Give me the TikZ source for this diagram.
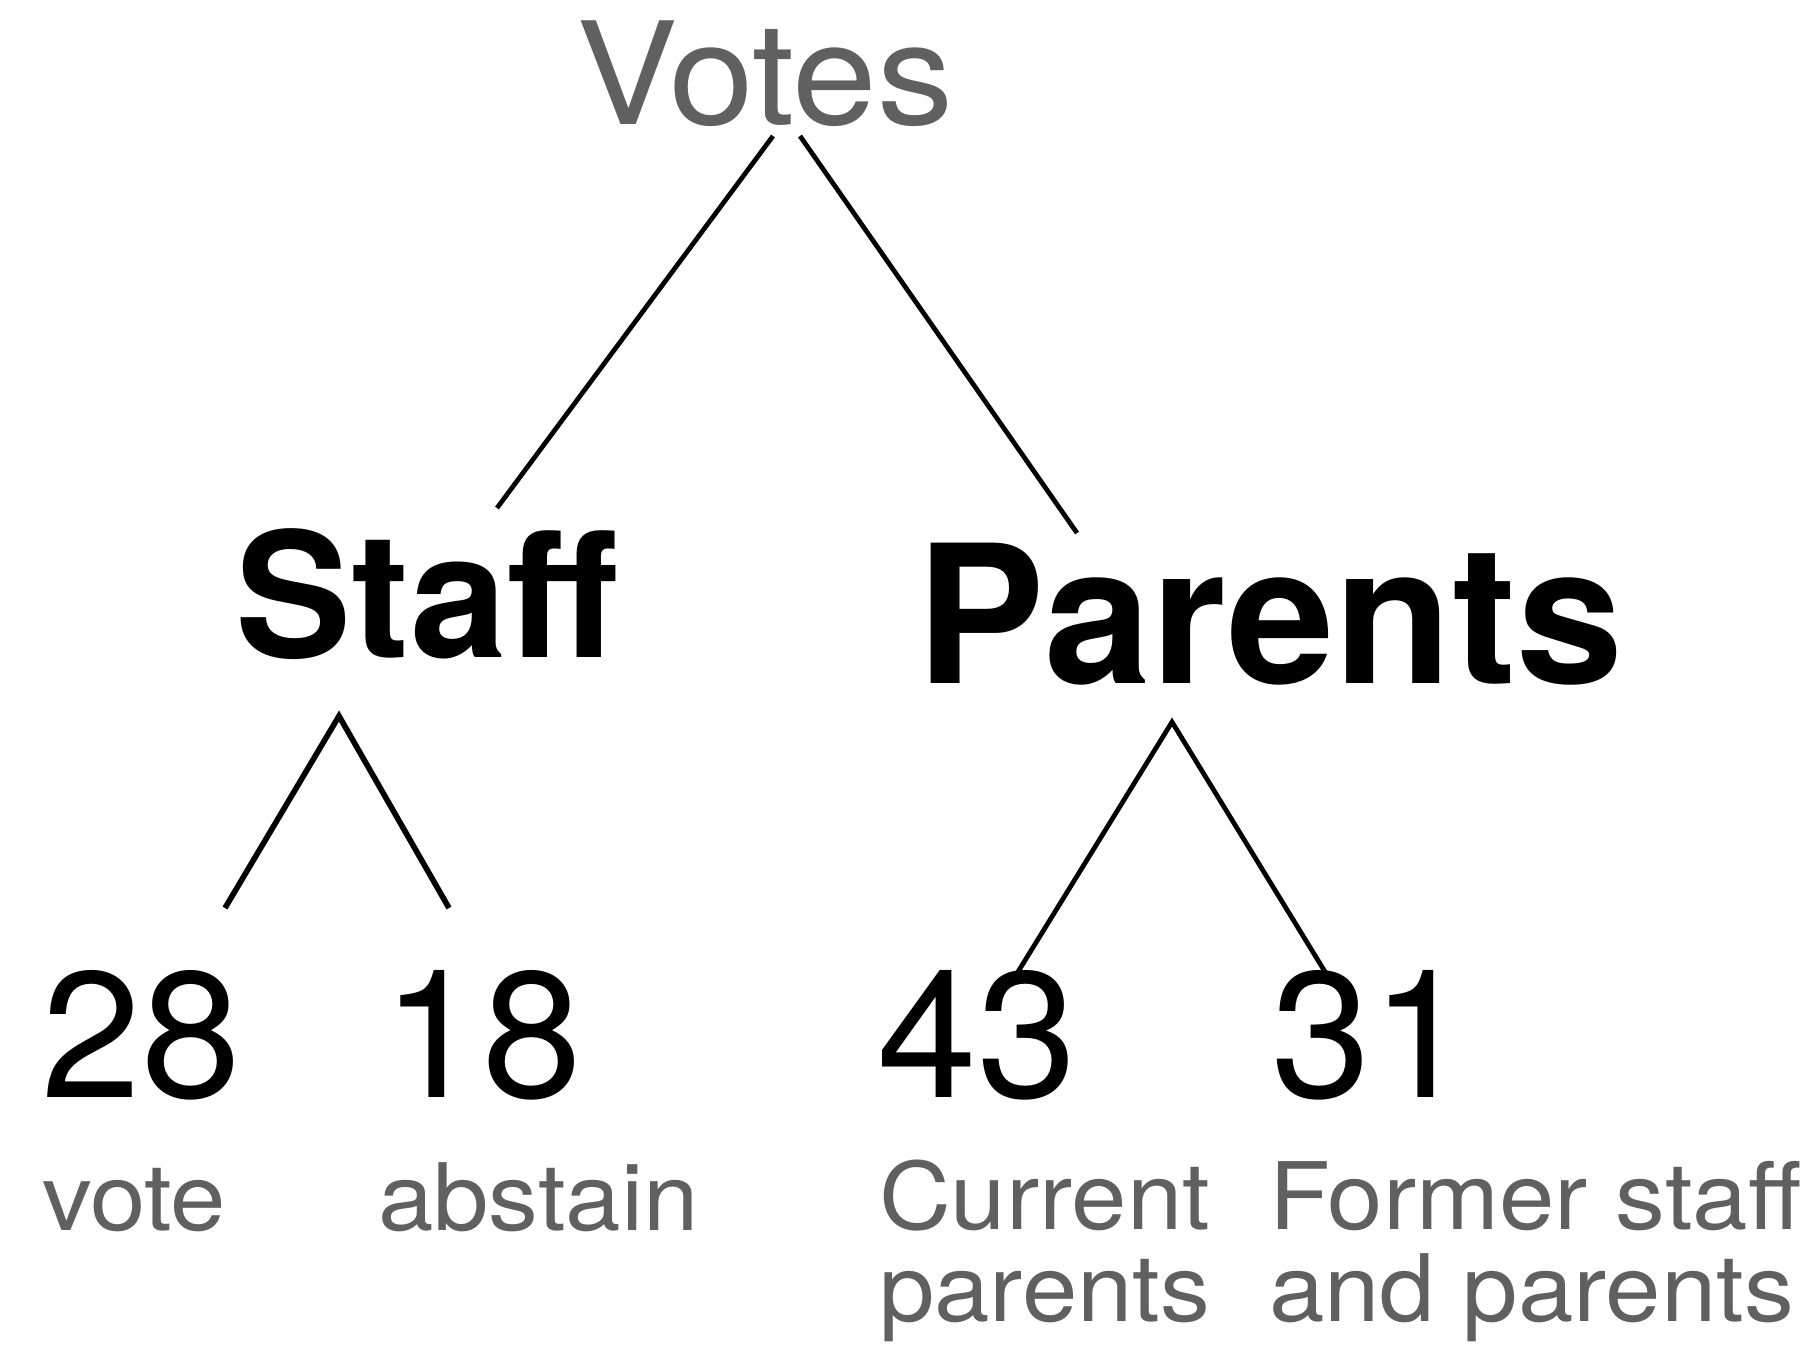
\documentclass[tikz,border=0pt]{standalone}
\usepackage{fontspec}
\setmainfont{TeX Gyre Heros}
\newfontfamily\widefont[FakeStretch=1.07]{TeX Gyre Heros}
\usepackage{xcolor}
\usepackage{tikz}
\usetikzlibrary{positioning}
\definecolor{VoteGray}{HTML}{606060}

\begin{document}
\begin{tikzpicture}[x=0.1mm,y=-0.1mm,inner sep=0pt,outer sep=0pt]
  \tikzstyle{root}=[text=VoteGray,font=\widefont\fontsize{40.5}{40}\selectfont,anchor=base]
  \tikzstyle{group}=[font=\bfseries\fontsize{49.5}{50}\selectfont,anchor=base]
  \tikzstyle{count}=[font=\fontsize{51}{51}\selectfont,anchor=base]
  \tikzstyle{what}=[text=VoteGray,font=\widefont\fontsize{26.5}{26}\selectfont,align=left,anchor=base west]
  \tikzstyle{branch}=[line width=1.35pt]
  \useasboundingbox (0,0) rectangle (1814,1366);
  % tree labels
  \node[root] (votes) at (765,124) {Votes};
  \node[group] (staff) at (427,657) {Staff};
  \node[group,font=\bfseries\fontsize{54.8}{55}\selectfont] (parents) at (1270,683) {Parents};
  \node[count] (vote)    at (141,1097) {28};
  \node[count] (abstain) at (482,1097) {18};
  \node[count] (current) at (977,1097) {43};
  \node[count] (former)  at (1371,1097) {31};
  \node[what] (voteTxt)    at (42,1230)   {vote};
  \node[what] (abstainTxt) at (378,1230)  {abstain};
  \node[what] (currentTxt) at (879,1321)  {Current\\parents};
  \node[what] (formerTxt)  at (1269,1321) {Former staff\\and parents};
  % branch ends
  \coordinate (votesL) at (773,136);
  \coordinate (votesR) at (800,136);
  \coordinate (staffTop) at (497,508);
  \coordinate (parentsTop) at (1077,533);
  \coordinate (staffFoot) at (339,716);
  \coordinate (parentsFoot) at (1172,722);
  \coordinate (voteTop) at (225,908);
  \coordinate (abstainTop) at (449,908);
  \coordinate (currentTop) at (1016,975);
  \coordinate (formerTop) at (1327,975);
  \draw[branch] (votesL) -- (staffTop);
  \draw[branch] (votesR) -- (parentsTop);
  \draw[branch,line width=1.6pt] (voteTop) -- (staffFoot) -- (abstainTop);
  \draw[branch] (currentTop) -- (parentsFoot) -- (formerTop);
\end{tikzpicture}
\end{document}
